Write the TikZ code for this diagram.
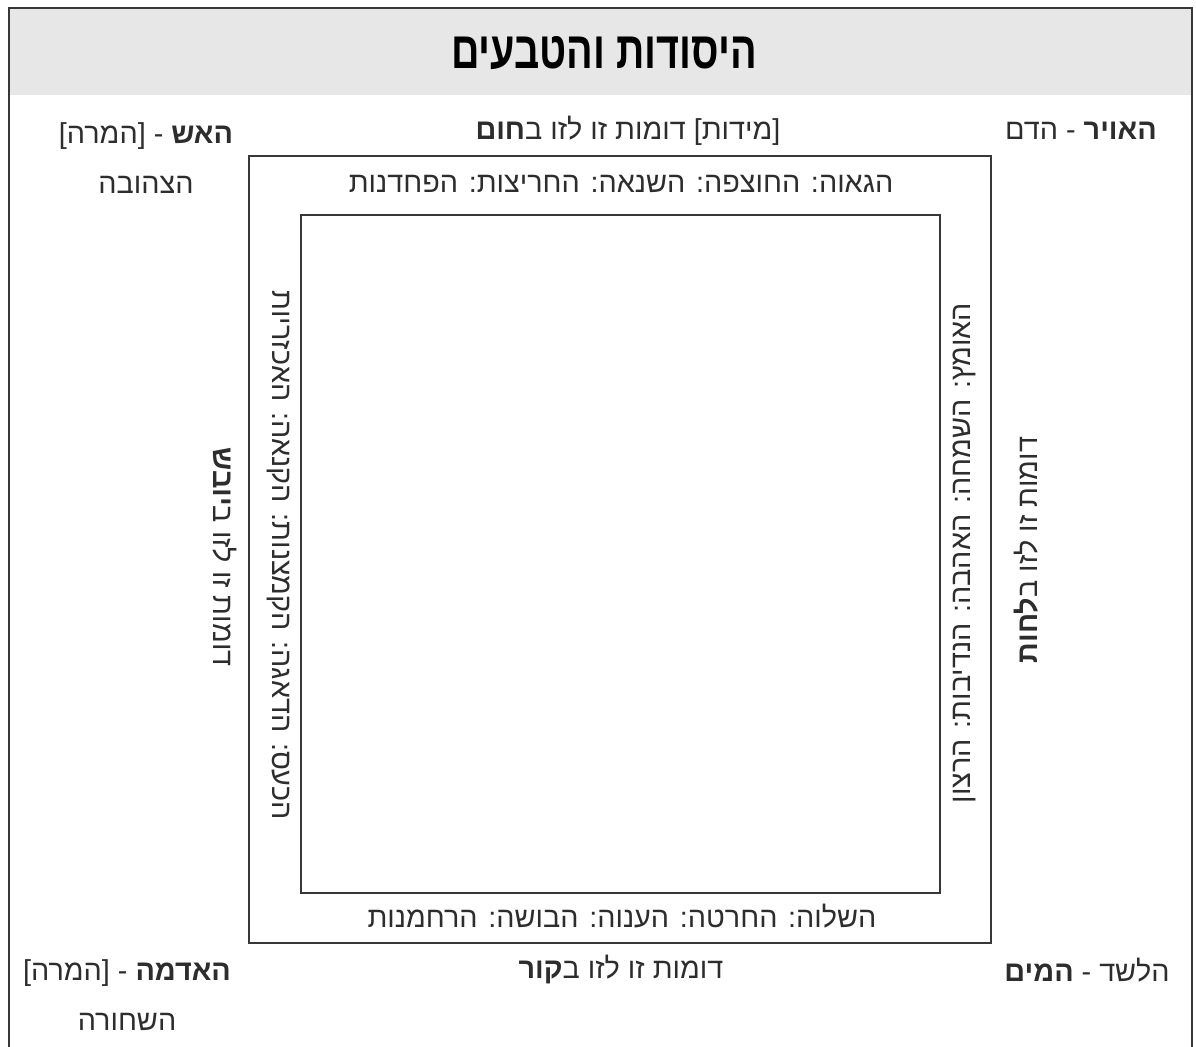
\documentclass[tikz,border=0pt]{standalone}
\usepackage{fontspec}
\usepackage{tikz}
\usetikzlibrary{positioning}
\TeXXeTstate=1
\newfontfamily\hebfont[Script=Hebrew]{Liberation Sans}
\newfontfamily\hebtitle[Script=Hebrew,FakeStretch=0.76]{Liberation Sans}
\definecolor{cframe}{RGB}{55,55,55}
\definecolor{cband}{RGB}{231,231,231}
\definecolor{ctext}{RGB}{45,45,45}
\newcommand{\rtl}[1]{\beginR#1\endR}

\begin{document}
\begin{tikzpicture}[
  x=0.5pt,y=-0.5pt,
  font=\hebfont\fontsize{14.4}{25}\selectfont,
  lbl/.style={inner sep=0pt,align=center,text=ctext},
  box/.style={draw=cframe,line width=0.9pt},
]
\useasboundingbox (0,0) rectangle (1196,1046);

% ===== FRAME + TITLE =====
\fill[cband] (9,8) rectangle (1192,95);
\draw[cframe,line width=0.6pt] (9,1060) -- (9,8) -- (1192,8) -- (1192,1060);
\node[lbl,text=black,font=\hebtitle\bfseries\fontsize{26}{30}\selectfont] (title) at (604,53) {\rtl{היסודות והטבעים}};

% ===== BOXES =====
\draw[box] (249,156) rectangle (991,943);
\draw[box] (301,215) rectangle (940,893);

% ===== CORNERS =====
\node[lbl] (fire) at (146,158) {\rtl{\textbf{האש} - [המרה]}\\\rtl{הצהובה}};
\node[lbl] (air) at (1081,131) {\rtl{\textbf{האויר} - הדם}};
\node[lbl] (earth) at (127,995) {\rtl{\textbf{האדמה} - [המרה]}\\\rtl{השחורה}};
\node[lbl] (water) at (1087,970) {\rtl{הלשד - \textbf{המים}}};

% ===== OUTER SIDES =====
\node[lbl] (hot) at (628,131) {\rtl{[מידות] דומות זו לזו ב\textbf{חום}}};
\node[lbl] (cold) at (621,969) {\rtl{דומות זו לזו ב\textbf{קור}}};
\node[lbl,rotate=-90] (dry) at (225,557) {\rtl{דומות זו לזו ב\textbf{יובש}}};
\node[lbl,rotate=90] (wet) at (1026,550) {\rtl{דומות זו לזו ב\textbf{לחות}}};

% ===== INNER SIDES =====
\node[lbl] (hotq) at (621,184) {\rtl{הגאוה: החוצפה: השנאה: החריצות: הפחדנות}};
\node[lbl] (coldq) at (622,916) {\rtl{השלוה: החרטה: הענוה: הבושה: הרחמנות}};
\node[lbl,rotate=-90] (dryq) at (279,555) {\rtl{הכעס: הדאגה: הקמצנות: הקנאה: האכזריות}};
\node[lbl,rotate=90] (wetq) at (964,553) {\rtl{האומץ: השמחה: האהבה: הנדיבות: הרצון}};

\end{tikzpicture}
\end{document}
